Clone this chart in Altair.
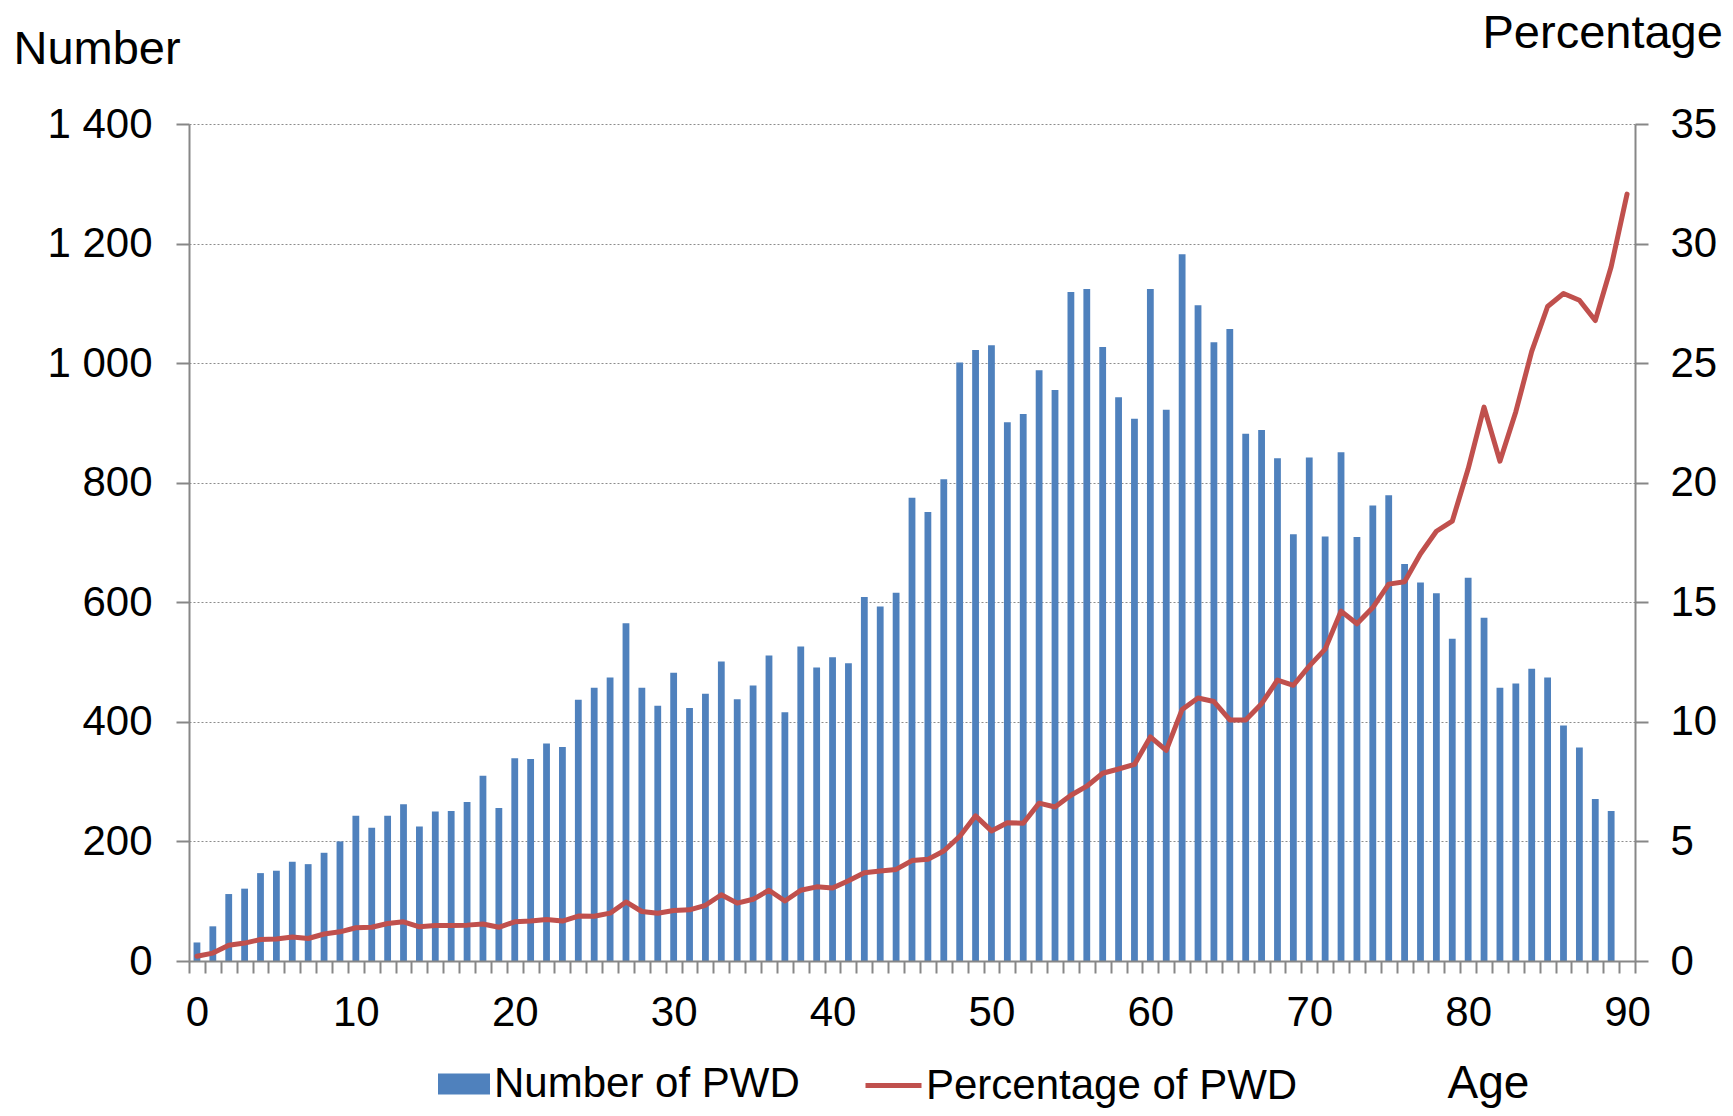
import altair as alt
import pandas as pd

FONT = "Liberation Sans"

# ---- data ----
ages_bar = list(range(90))          # 0 .. 89
ages_line = list(range(91))         # 0 .. 90

number_pwd = [
    31, 58, 112, 121, 147, 151, 166, 162, 181, 200,
    243, 223, 243, 262, 225, 250, 251, 266, 310, 256,
    339, 338, 364, 358, 437, 457, 474, 565, 457, 427,
    482, 423, 447, 501, 438, 461, 511, 416, 526, 491,
    508, 498, 609, 593, 616, 775, 751, 806, 1001, 1022,
    1030, 901, 915, 988, 955, 1119, 1124, 1027, 943, 907,
    1124, 922, 1182, 1097, 1035, 1057, 882, 888, 841, 714,
    842, 710, 851, 709, 762, 779, 664, 633, 615, 539,
    641, 574, 457, 464, 489, 474, 394, 357, 271, 251,
]

pct_pwd = [
    0.2, 0.33, 0.66, 0.75, 0.9, 0.92, 1.0, 0.94, 1.13, 1.22,
    1.39, 1.41, 1.57, 1.64, 1.43, 1.48, 1.48, 1.5, 1.55, 1.41,
    1.64, 1.67, 1.74, 1.67, 1.88, 1.87, 2.0, 2.47, 2.07, 2.0,
    2.11, 2.14, 2.33, 2.77, 2.42, 2.58, 2.96, 2.51, 2.96, 3.1,
    3.05, 3.36, 3.69, 3.76, 3.83, 4.2, 4.25, 4.6, 5.21, 6.07,
    5.44, 5.78, 5.76, 6.6, 6.44, 6.93, 7.31, 7.85, 8.03, 8.22,
    9.37, 8.81, 10.52, 11.0, 10.85, 10.08, 10.08, 10.76, 11.75, 11.53,
    12.33, 13.04, 14.63, 14.1, 14.78, 15.76, 15.86, 17.03, 17.97, 18.39,
    20.58, 23.16, 20.9, 22.97, 25.49, 27.37, 27.91, 27.63, 26.78, 29.03,
    32.07,
]

series_names = ["Number of PWD", "Percentage of PWD"]
left_ticks = [0, 200, 400, 600, 800, 1000, 1200, 1400]
right_ticks = [0, 5, 10, 15, 20, 25, 30, 35]
x_tick_positions = [i - 0.5 for i in range(92)]

bar_df = pd.DataFrame({"Age": ages_bar, "Number": number_pwd, "Series": series_names[0]})
line_df = pd.DataFrame({"Age": ages_line, "Percentage": pct_pwd, "Series": series_names[1]})

# ---- layout ----
PLOT_W = 1446
PLOT_H = 837
BAND = PLOT_W / 91.0
AXIS_GREY = "#878787"

x_scale = alt.Scale(domain=[-0.5, 90.5], nice=False, zero=False, padding=0)

x_axis = alt.Axis(
    values=x_tick_positions,
    labelExpr="(datum.value + 0.5) % 10 === 0 ? toString(datum.value + 0.5) : ''",
    labelOffset=BAND / 2,
    labelOverlap=False,
    labelFlush=False,
    grid=False,
    tickSize=12,
    tickWidth=2,
    tickColor=AXIS_GREY,
    domainColor=AXIS_GREY,
    domainWidth=2,
    labelFontSize=42,
    labelPadding=19,
    labelColor="black",
    title="Age",
    titleFontSize=46,
    titleFontWeight="normal",
    titleColor="black",
    titleAngle=0,
    titleAlign="left",
    titleBaseline="alphabetic",
    titleX=1258,
    titleY=136,
    titleLimit=1000,
    zindex=1,
)

left_axis = alt.Axis(
    orient="left",
    values=left_ticks,
    labelExpr="replace(datum.label, ',', ' ')",
    tickSize=13,
    tickWidth=2,
    tickColor=AXIS_GREY,
    domainColor=AXIS_GREY,
    domainWidth=2,
    labelFontSize=42,
    labelPadding=24,
    labelColor="black",
    grid=True,
    gridColor="#8c8c8c",
    gridDash=[2, 2],
    gridWidth=1,
    title="Number",
    titleFontSize=47,
    titleFontWeight="normal",
    titleColor="black",
    titleAngle=0,
    titleAlign="left",
    titleBaseline="alphabetic",
    titleX=-176,
    titleY=-61,
    titleLimit=1000,
)

right_axis = alt.Axis(
    orient="right",
    values=right_ticks,
    tickSize=13,
    tickWidth=2,
    tickColor=AXIS_GREY,
    domainColor=AXIS_GREY,
    domainWidth=2,
    labelFontSize=42,
    labelPadding=22,
    labelColor="black",
    grid=False,
    title="Percentage",
    titleFontSize=47,
    titleFontWeight="normal",
    titleColor="black",
    titleAngle=0,
    titleAlign="left",
    titleBaseline="alphabetic",
    titleX=-153,
    titleY=-77,
    titleLimit=1000,
)

bars = alt.Chart(bar_df).mark_bar(size=6.8).encode(
    x=alt.X("Age:Q", scale=x_scale, axis=x_axis),
    y=alt.Y("Number:Q", scale=alt.Scale(domain=[0, 1400], nice=False), axis=left_axis),
    color=alt.Color(
        "Series:N",
        scale=alt.Scale(domain=[series_names[0]], range=["#4F81BD"]),
        legend=alt.Legend(
            orient="none",
            legendX=249,
            legendY=934,
            title=None,
            padding=0,
            symbolType="M-1,-0.4H1V0.4H-1Z",
            symbolSize=2704,
            symbolStrokeWidth=0,
            symbolOpacity=1,
            labelOffset=4,
            labelFontSize=42,
            labelColor="black",
            labelLimit=1000,
        ),
    ),
)

line = alt.Chart(line_df).mark_line(strokeWidth=5, strokeCap="round", strokeJoin="round").encode(
    x=alt.X("Age:Q", scale=x_scale, axis=x_axis),
    y=alt.Y("Percentage:Q", scale=alt.Scale(domain=[0, 35], nice=False), axis=right_axis),
    color=alt.Color(
        "Series:N",
        scale=alt.Scale(domain=[series_names[1]], range=["#C0504D"]),
        legend=alt.Legend(
            orient="none",
            legendX=674,
            legendY=931,
            title=None,
            padding=0,
            symbolType="stroke",
            symbolSize=3136,
            symbolStrokeWidth=5,
            symbolOpacity=1,
            labelOffset=2,
            labelFontSize=42,
            labelColor="black",
            labelLimit=1000,
        ),
    ),
)

chart = (
    alt.layer(bars, line)
    .resolve_scale(y="independent", color="independent")
    .properties(
        width=PLOT_W,
        height=PLOT_H,
        padding={"left": 181, "top": 116, "right": 88, "bottom": 147},
        autosize=alt.AutoSizeParams(type="none"),
        background="white",
    )
    .configure_view(stroke="transparent")
    .configure_axis(labelFont=FONT, titleFont=FONT)
    .configure_legend(labelFont=FONT, titleFont=FONT)
)

chart.save("out.html", embed_options={"renderer": "svg", "actions": False})
